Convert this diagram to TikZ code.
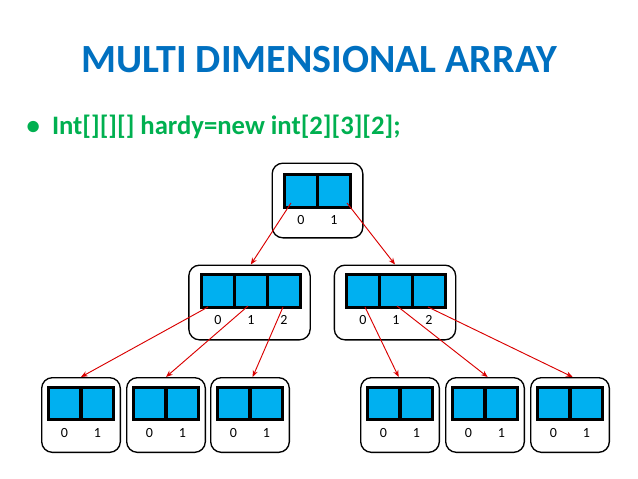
\documentclass[tikz,border=0pt]{standalone}
\usepackage{fontspec}
\setmainfont{Carlito}
\usetikzlibrary{calc,arrows.meta}
\definecolor{cellblue}{RGB}{0,176,240}
\definecolor{titleblue}{RGB}{0,112,192}
\definecolor{codegreen}{RGB}{0,176,80}
\tikzset{
	x=0.75pt, y=-0.75pt,
	cell/.style={draw, line width=2.4pt, fill=cellblue, minimum width=24.2pt, minimum height=24.2pt, inner sep=0pt},
	frame/.style={draw, line width=1pt, rounded corners=8pt, minimum height=56pt, inner sep=0pt},
	idx/.style={font=\fontsize{10.5}{12}\selectfont},
	link/.style={-{Stealth[length=5pt,width=4pt]}, red!85!black, line width=0.7pt},
}
% one array: name, x of first cell, y of cells, number of cells
\newcommand\cellrow[4]{%
	\foreach \i in {1,...,#4}{
		\pgfmathtruncatemacro\k{\i-1}
		\node[cell] (#1\k) at ({#2+\k*33},#3) {};
		\node[idx] at ({#2+\k*33},{#3+29}) {\k};
	}
}
\begin{document}
\begin{tikzpicture}
	\useasboundingbox (0,0) rectangle (638,478);
	\node[font=\fontsize{30}{34}\selectfont\bfseries, text=titleblue] (title) at (319,60) {MULTI DIMENSIONAL ARRAY};
	\node[font=\fontsize{20}{24}\selectfont\bfseries, text=codegreen, anchor=west] (code) at (22,127) {\textbullet\ \ Int[][][] hardy=new int[2][3][2];};

	% frames
	\node[frame, minimum width=68pt] (top) at (317.5,200.5) {};
	\node[frame, minimum width=91pt] (ml) at (249.5,302.5) {};
	\node[frame, minimum width=91pt] (mr) at (395,302.5) {};
	\node[frame, minimum width=59pt] (b1) at (81,415) {};
	\node[frame, minimum width=59pt] (b2) at (166,415) {};
	\node[frame, minimum width=59pt] (b3) at (250,415) {};
	\node[frame, minimum width=59pt] (b4) at (400,415) {};
	\node[frame, minimum width=59pt] (b5) at (485,415) {};
	\node[frame, minimum width=59pt] (b6) at (570,415) {};

	% arrays
	\cellrow{t}{301}{191}{2}
	\cellrow{l}{218}{291}{3}
	\cellrow{r}{363}{291}{3}
	\cellrow{p}{64.5}{403.5}{2}
	\cellrow{q}{149.5}{403.5}{2}
	\cellrow{s}{233.5}{403.5}{2}
	\cellrow{u}{383.5}{403.5}{2}
	\cellrow{v}{468.5}{403.5}{2}
	\cellrow{w}{553.5}{403.5}{2}

	% pointers
	\draw[link] ($(t0)+(-10,12)$) -- ([xshift=1pt]ml.north);
	\draw[link] ($(t1)+(13,12)$) -- (mr.north);
	\draw[link] ($(l0)+(-10,16)$) -- (b1.north);
	\draw[link] ($(l1)+(-3,15)$) -- (b2.north);
	\draw[link] ($(l2)+(-1,16)$) -- ([xshift=2pt]b3.north);
	\draw[link] ($(r0)+(2,16)$) -- ([xshift=-1pt]b4.north);
	\draw[link] ($(r1)+(1,15)$) -- ([xshift=2pt]b5.north);
	\draw[link] ($(r2)+(-1,16)$) -- ([xshift=2pt]b6.north);
\end{tikzpicture}
\end{document}
